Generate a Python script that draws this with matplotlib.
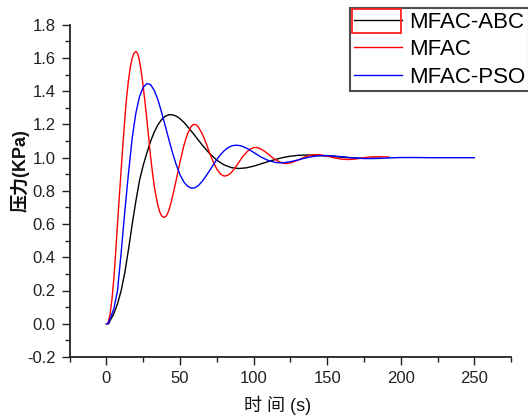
import matplotlib
matplotlib.use("Agg")
import matplotlib.pyplot as plt
from matplotlib.patches import Rectangle

# values
t_abc = [0, 1.5, 2.5, 5, 7.5, 10, 12.5, 15, 17.5, 20, 22.5, 25, 27.5, 30, 32.5, 35,
         37.5, 40, 42.5, 45, 47.5, 50, 52.5, 55, 57.5, 60, 65, 70, 75, 80, 85, 90,
         95, 100, 105, 110, 115, 120, 125, 130, 135, 140, 145, 150, 155, 160, 165,
         170, 175, 180, 186]
y_abc = [0.0, 0.0, 0.02, 0.06, 0.12, 0.20, 0.31, 0.45, 0.60, 0.74, 0.865, 0.955,
         1.030, 1.099, 1.155, 1.199, 1.230, 1.250, 1.259, 1.258, 1.250, 1.235, 1.214,
         1.189, 1.162, 1.134, 1.077, 1.026, 0.985, 0.956, 0.940, 0.935, 0.939, 0.949,
         0.963, 0.977, 0.990, 1.001, 1.009, 1.014, 1.016, 1.016, 1.013, 1.010, 1.007,
         1.003, 1.000, 0.998, 0.997, 0.996, 0.996]

t_mfac = [0, 1, 2.5, 3.75, 5, 6.25, 7.5, 8.75, 10, 11.25, 12.5, 13.75, 15, 16.25,
          17.5, 18.75, 20, 21, 22, 23, 24, 25, 26.25, 27.5, 28.75, 30,
          31.25, 32.5, 33.75, 35, 36.25, 37.5, 38.75, 40, 41.25, 42.5, 43.75, 45,
          47.5, 50, 52.5, 55, 57.5, 58.75, 60, 61.25, 62.5, 65, 67.5, 70, 72.5, 75,
          77.5, 80, 82.5, 85, 87.5, 90, 92.5, 95, 97.5, 100, 102.5, 105, 107.5, 110,
          112.5, 115, 117.5, 120, 122.5, 125, 127.5, 130, 135, 140, 145, 150, 155,
          160, 165, 170, 175, 180, 185, 192]
y_mfac = [0.0, 0.0, 0.06, 0.15, 0.27, 0.43, 0.60, 0.77, 0.93, 1.09, 1.24, 1.37,
          1.47, 1.55, 1.60, 1.630, 1.640, 1.630, 1.600, 1.555, 1.495, 1.425, 1.330,
          1.225, 1.115, 1.005, 0.910, 0.829, 0.765, 0.711, 0.672, 0.649, 0.641,
          0.643, 0.658, 0.687, 0.725, 0.770, 0.870, 0.975, 1.070, 1.143, 1.188,
          1.198, 1.201, 1.196, 1.184, 1.145, 1.092, 1.031, 0.976, 0.931, 0.901,
          0.889, 0.894, 0.912, 0.940, 0.973, 1.005, 1.031, 1.051, 1.061, 1.061,
          1.052, 1.038, 1.021, 1.003, 0.987, 0.975, 0.967, 0.965, 0.969, 0.976,
          0.985, 1.005, 1.017, 1.018, 1.010, 0.999, 0.991, 0.989, 0.993, 1.000,
          1.005, 1.006, 1.004]

t_pso = [0, 1, 2.5, 5, 7.5, 10, 12.5, 15, 17.5, 20, 22.5, 25, 27.5, 30, 32.5, 35,
         37.5, 40, 42.5, 45, 47.5, 50, 52.5, 55, 57.5, 60, 62.5, 65, 67.5, 70, 72.5,
         75, 77.5, 80, 82.5, 85, 87.5, 90, 92.5, 95, 97.5, 100, 105, 110, 115, 120,
         125, 130, 135, 140, 145, 150, 155, 160, 165, 170, 175, 180, 185, 190, 200,
         210, 220, 230, 240, 250]
y_pso = [0.0, 0.0, 0.03, 0.09, 0.20, 0.43, 0.68, 0.91, 1.12, 1.27, 1.37, 1.425,
         1.447, 1.440, 1.405, 1.348, 1.272, 1.190, 1.106, 1.026, 0.955, 0.897, 0.855,
         0.829, 0.817, 0.818, 0.833, 0.857, 0.888, 0.921, 0.956, 0.989, 1.018, 1.042,
         1.060, 1.071, 1.075, 1.074, 1.068, 1.058, 1.046, 1.032, 1.004, 0.983, 0.971,
         0.969, 0.976, 0.986, 0.998, 1.007, 1.012, 1.013, 1.010, 1.006, 1.001, 0.997,
         0.995, 0.995, 0.996, 0.998, 1.001, 1.001, 1.000, 1.000, 1.000, 1.000]

labels = ["MFAC-ABC", "MFAC", "MFAC-PSO"]
x_ticks = [0, 50, 100, 150, 200, 250]
y_ticks = [-0.2, 0.0, 0.2, 0.4, 0.6, 0.8, 1.0, 1.2, 1.4, 1.6, 1.8]

fonts = ["Liberation Sans", "Noto Sans CJK SC", "DejaVu Sans"]
plt.rcParams["font.family"] = fonts

fig = plt.figure(figsize=(5.28, 4.15), dpi=100)
ax = fig.add_axes([0.132, 0.140, 0.836, 0.800])

ax.plot(t_abc, y_abc, color="#000000", lw=1.0, label=labels[0])
ax.plot(t_mfac, y_mfac, color="#ff0000", lw=1.0, label=labels[1])
ax.plot(t_pso, y_pso, color="#0000ff", lw=1.0, label=labels[2])

ax.set_xlim(-25, 275)
ax.set_ylim(-0.2, 1.8)
ax.set_xticks(x_ticks)
ax.set_xticks([-25, 25, 75, 125, 175, 225, 275], minor=True)
ax.set_yticks(y_ticks)
ax.set_yticklabels([f"{v:.1f}" for v in y_ticks])
ax.set_yticks([v / 10 for v in range(-1, 18, 2)], minor=True)

for s in ["top", "right"]:
    ax.spines[s].set_visible(False)
for s in ["left", "bottom"]:
    ax.spines[s].set_linewidth(1.3)
    ax.spines[s].set_color("#222222")

ax.tick_params(which="major", direction="out", length=6, width=1.0,
               labelsize=12, colors="#222222", pad=4)
ax.tick_params(which="minor", direction="out", length=3.5, width=1.0,
               colors="#222222")

ax.set_xlabel("时 间 (s)", fontsize=13, color="#111111")
ax.xaxis.set_label_coords(0.47, -0.115)
ax.set_ylabel("压力(KPa)", fontsize=13, fontweight="bold", color="#111111")
ax.yaxis.set_label_coords(-0.09, 0.56)

leg = fig.legend(loc="upper left", bbox_to_anchor=(350 / 528, 1 - 8 / 415),
                 fontsize=16, frameon=True, fancybox=False, edgecolor="#222222",
                 handlelength=2.2, handletextpad=0.3, labelspacing=0.3,
                 borderpad=0.16, borderaxespad=0)
leg.get_frame().set_linewidth(1.5)

fig.patches.append(Rectangle((352 / 528, 1 - 33 / 415), 49 / 528, 24 / 415,
                             transform=fig.transFigure, fill=False,
                             ec="#ff2020", lw=1.3, zorder=10))

fig.savefig("out.png", dpi=100)
